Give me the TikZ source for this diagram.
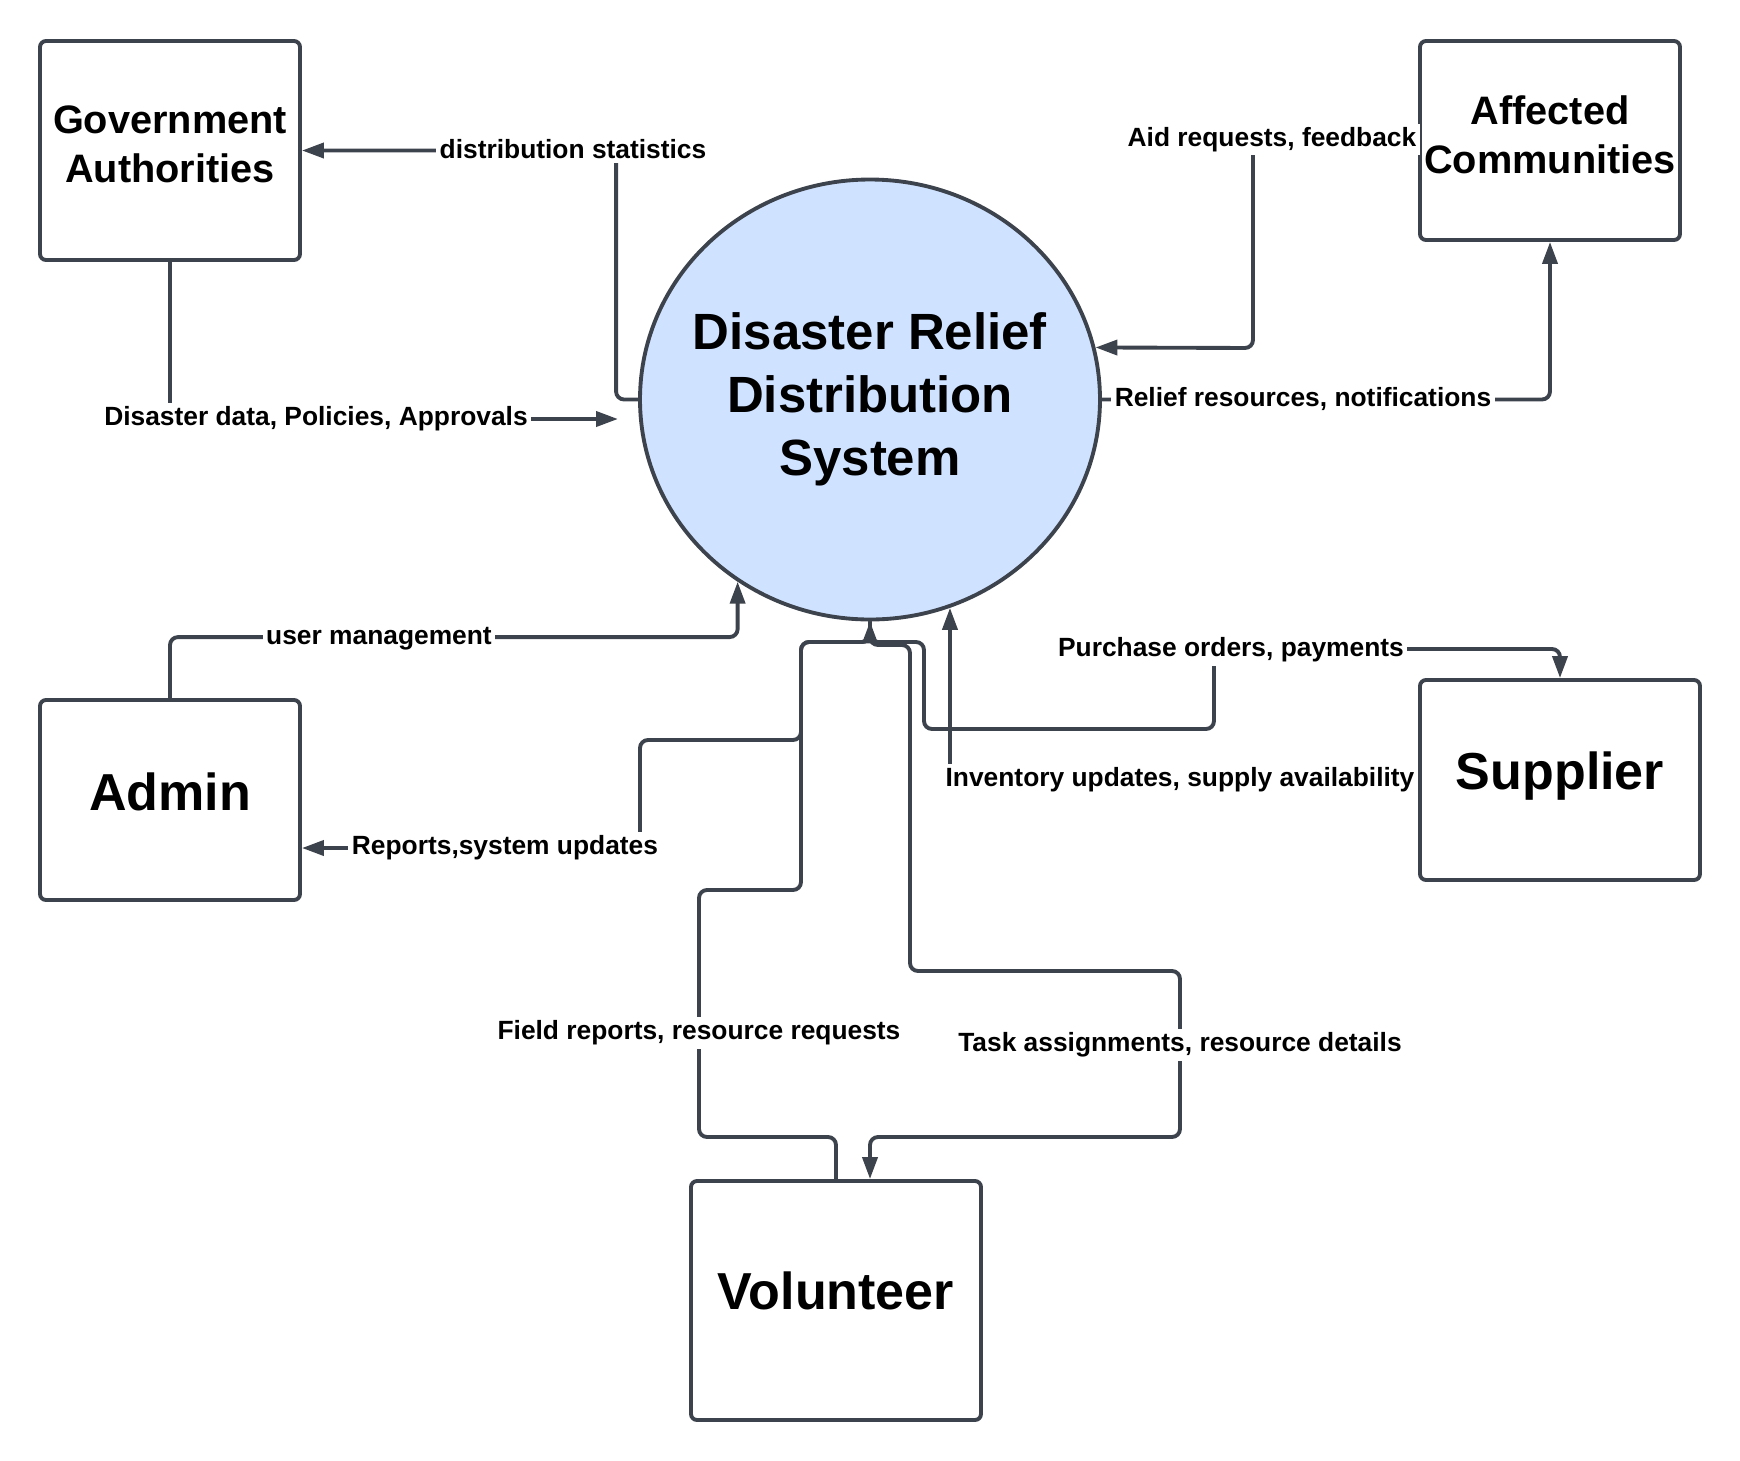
\documentclass[tikz,border=0pt]{standalone}
\usepackage{fontspec}
\setmainfont{Liberation Sans}
\usepackage{tikz}
\usetikzlibrary{arrows.meta,shapes.geometric}
\definecolor{lnclr}{HTML}{3D434C}
\definecolor{sysblue}{HTML}{CFE2FF}

\begin{document}
\begin{tikzpicture}[
  ent/.style={
    draw=lnclr, line width=1.1pt, rounded corners=0.6mm,
    fill=white, align=center, inner sep=0pt,
    minimum width=2.6cm, minimum height=2cm,
    font=\bfseries\fontsize{11.3}{13.9}\selectfont
  },
  bigent/.style={ent, font=\bfseries\fontsize{14.8}{17}\selectfont},
  proc/.style={
    ellipse, draw=lnclr, line width=1.1pt, fill=sysblue,
    minimum width=4.6cm, minimum height=4.4cm, inner sep=0pt
  },
  ptxt/.style={align=center, font=\bfseries\fontsize{14.5}{18}\selectfont},
  flow/.style={
    draw=lnclr, line width=1.1pt, rounded corners=0.8mm,
    -{Triangle[length=2.2mm, width=1.5mm]}
  },
  lbl/.style={fill=white, inner sep=1pt, yshift=-0.3mm,
    font=\bfseries\fontsize{7.5}{9}\selectfont}
]
  \useasboundingbox (0,0) rectangle (17.40,-14.60);

  \node[proc, label={[ptxt]center:Disaster Relief\\Distribution\\System}] (sys) at (8.70,-3.995){};
  \node[ent, minimum height=2.19cm, text depth=0.13cm] (gov) at (1.70,-1.505){Government\\Authorities};
  \node[ent, minimum height=1.99cm, text depth=0.11cm] (aff) at (15.50,-1.405){Affected\\Communities};
  \node[bigent, text depth=0.16cm] (admin) at (1.70,-8.00){Admin};
  \node[bigent, minimum width=2.8cm, text depth=0.18cm] (sup) at (15.60,-7.80){Supplier};
  \node[bigent, minimum width=2.9cm, minimum height=2.39cm, text depth=0.2cm] (vol) at (8.36,-13.005){Volunteer};
  \coordinate (govIn) at (6.18,-4.19);

  \draw[flow] (sys.west) -- ++(-0.22,0) |- (gov.east);
  \draw[flow] (gov.south) |- (govIn);
  \draw[flow] (aff.west) -| (12.53,-3.48) -- (sys.13);
  \draw[flow] (sys.east) -| (aff.south);
  \draw[flow] (admin.north) -- ++(0,0.61) -| (sys.234);
  \draw[flow] (sys.south) -- (8.70,-6.42) -| (8.01,-7.40) -| (6.40,-8.48) coordinate (rp) -- (admin.east |- rp);
  \draw[flow] (sys.south) -- (8.70,-6.42) -| (9.24,-7.29) -| (12.14,-6.49) -| (sup.north);
  \draw[flow] (sup.west) -| (sys.291);
  \draw[flow] (vol.north) |- (6.99,-11.37) |- (8.01,-8.90) |- (8.70,-6.42) -- (sys.south);
  \draw[flow] (sys.south) -- (8.70,-6.45) -| (9.10,-9.71) -| (11.80,-11.37) -| (sys.south |- vol.north);

  \node[lbl] (lbStat) at (5.73,-1.465){distribution statistics};
  \node[lbl] (lbData) at (3.16,-4.16){Disaster data, Policies, Approvals};
  \node[lbl] (lbAid) at (12.72,-1.365){Aid requests, feedback};
  \node[lbl] (lbRel) at (13.03,-3.96){Relief resources, notifications};
  \node[lbl] (lbUser) at (3.79,-6.36){user management};
  \node[lbl] (lbRep) at (5.05,-8.445){Reports,system updates};
  \node[lbl] (lbPur) at (12.31,-6.47){Purchase orders, payments};
  \node[lbl] (lbInv) at (11.80,-7.77){Inventory updates, supply availability};
  \node[lbl] (lbField) at (6.99,-10.30){Field reports, resource requests};
  \node[lbl] (lbTask) at (11.80,-10.42){Task assignments, resource details};
\end{tikzpicture}
\end{document}
